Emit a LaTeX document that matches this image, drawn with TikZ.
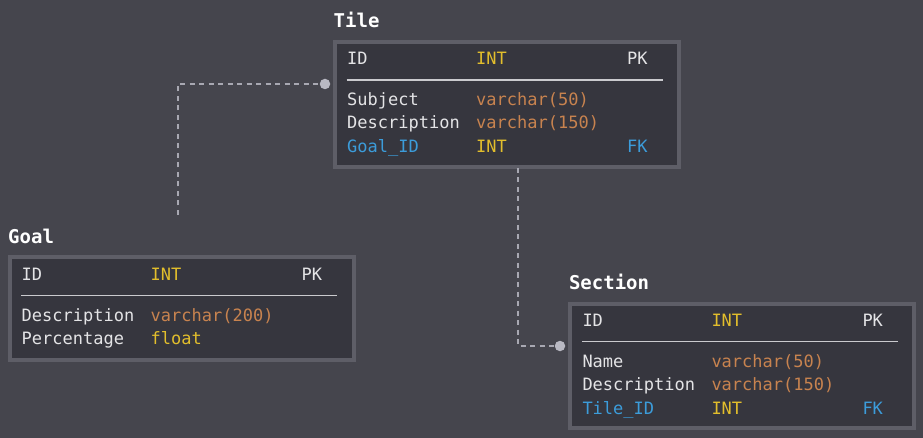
\documentclass[tikz,border=0pt]{standalone}
\usepackage{fontspec}
\newfontfamily\erdmono{DejaVu Sans Mono}
\definecolor{bgcol}{HTML}{45454D}
\definecolor{boxfill}{HTML}{36363E}
\definecolor{boxline}{HTML}{5E5E67}
\definecolor{namecol}{HTML}{E4E4E6}
\definecolor{titlecol}{HTML}{FFFFFF}
\definecolor{intcol}{HTML}{E2BE2C}
\definecolor{varcol}{HTML}{C8834F}
\definecolor{keycol}{HTML}{3C9CDA}
\definecolor{rulecol}{HTML}{CACACE}
\definecolor{linkcol}{HTML}{A8A8B2}
\definecolor{dotcol}{HTML}{B9B9C3}
\tikzset{
  tbox/.style={draw=boxline, fill=boxfill, line width=4pt, minimum width=344pt, anchor=north west, inner sep=0pt},
  ttitle/.style={font=\erdmono\bfseries\fontsize{19}{22}\selectfont, text=titlecol},
  rule/.style={draw=rulecol, line width=1.5pt},
  link/.style={draw=linkcol, line width=1.5pt, dash pattern=on 5pt off 4.5pt},
  dot/.style={circle, fill=dotcol, minimum size=10.5pt, inner sep=0pt, anchor=center}
}
\begin{document}
\begin{tikzpicture}[x=1pt, y=-1pt, every node/.style={inner sep=0pt, anchor=base west, font=\erdmono\fontsize{17}{20}\selectfont, text=namecol}]
  \fill[bgcol] (0,0) rectangle (923,438);
  \useasboundingbox (0,0) rectangle (923,438);

  \begin{scope}[shift={(333,40)}]
    \node[tbox, minimum height=125.5pt] (Tile) at (0,0) {};
    \node[ttitle] (TileTitle) at (0.5,-12) {Tile};
    \node (TileN0) at (14,24.5) {ID};
    \node[text=intcol] (TileT0) at (143,24.5) {INT};
    \node (TileK0) at (294,24.5) {PK};
    \draw[rule] (13.5,40) -- (329.5,40);
    \foreach \i/\y/\n/\t/\cl in {1/65.5/Subject/varchar(50)/varcol, 2/89/Description/varchar(150)/varcol}{%
      \node (TileN\i) at (14,\y) {\n};
      \node[text=\cl] (TileT\i) at (143,\y) {\t};
    }
    \node[text=keycol] (TileN3) at (14,112.5) {Goal\_ID};
    \node[text=intcol] (TileT3) at (143,112.5) {INT};
    \node[text=keycol] (TileK3) at (294,112.5) {FK};
  \end{scope}

  \begin{scope}[shift={(7.5,255.5)}]
    \node[tbox, minimum height=102pt] (Goal) at (0,0) {};
    \node[ttitle] (GoalTitle) at (0.5,-12) {Goal};
    \node (GoalN0) at (14,24.5) {ID};
    \node[text=intcol] (GoalT0) at (143,24.5) {INT};
    \node (GoalK0) at (294,24.5) {PK};
    \draw[rule] (13.5,40) -- (329.5,40);
    \foreach \i/\y/\n/\t/\cl in {1/65.5/Description/varchar(200)/varcol, 2/89/Percentage/float/intcol}{%
      \node (GoalN\i) at (14,\y) {\n};
      \node[text=\cl] (GoalT\i) at (143,\y) {\t};
    }
  \end{scope}

  \begin{scope}[shift={(568.3,301.7)}]
    \node[tbox, minimum height=124.6pt] (Section) at (0,0) {};
    \node[ttitle] (SectionTitle) at (0.5,-12) {Section};
    \node (SectionN0) at (14,24.5) {ID};
    \node[text=intcol] (SectionT0) at (143,24.5) {INT};
    \node (SectionK0) at (294,24.5) {PK};
    \draw[rule] (13.5,40) -- (329.5,40);
    \foreach \i/\y/\n/\t/\cl in {1/65.5/Name/varchar(50)/varcol, 2/89/Description/varchar(150)/varcol}{%
      \node (SectionN\i) at (14,\y) {\n};
      \node[text=\cl] (SectionT\i) at (143,\y) {\t};
    }
    \node[text=keycol] (SectionN3) at (14,112.5) {Tile\_ID};
    \node[text=intcol] (SectionT3) at (143,112.5) {INT};
    \node[text=keycol] (SectionK3) at (294,112.5) {FK};
  \end{scope}

  \coordinate (GoalLink) at (178,215);
  \coordinate (TileLink) at (518,168);
  \draw[link] (GoalLink) |- (325,84);
  \node[dot] (TileDot) at (325,84) {};
  \draw[link] (TileLink) |- (560,346);
  \node[dot] (SectionDot) at (560,346) {};
\end{tikzpicture}
\end{document}
